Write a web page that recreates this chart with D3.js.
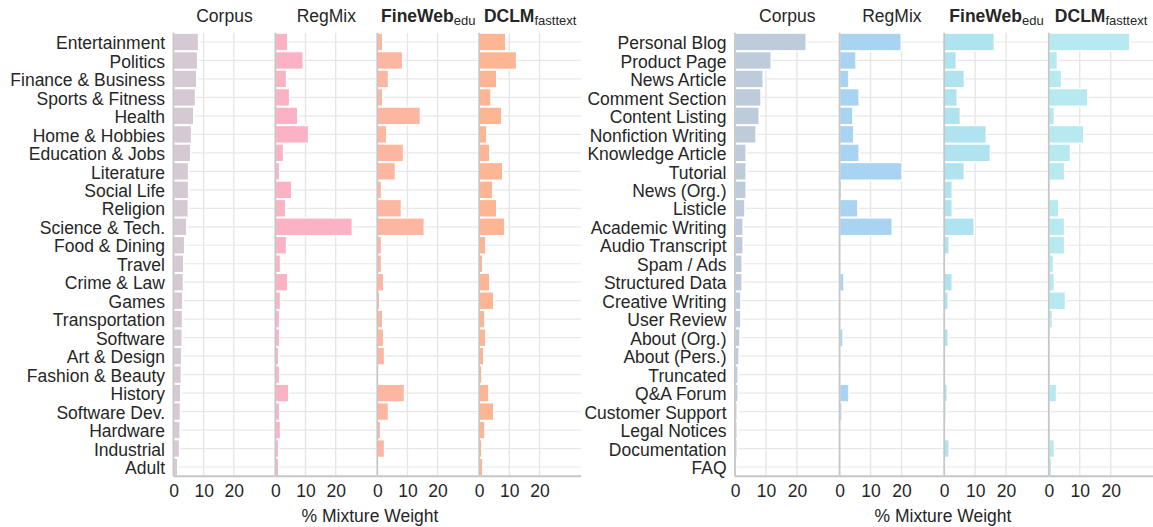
<!DOCTYPE html>
<html>
<head>
<meta charset="utf-8">
<script src="https://cdn.jsdelivr.net/npm/d3@7"></script>
<style>
  body { margin: 0; background: #fff; }
  text { font-family: "Liberation Sans", Arial, sans-serif; fill: #262626; }
</style>
</head>
<body>
<script>
// data (% mixture weight)
const topicCats = ['Entertainment', 'Politics', 'Finance & Business', 'Sports & Fitness', 'Health',
    'Home & Hobbies', 'Education & Jobs', 'Literature', 'Social Life', 'Religion', 'Science & Tech.',
    'Food & Dining', 'Travel', 'Crime & Law', 'Games', 'Transportation', 'Software', 'Art & Design',
    'Fashion & Beauty', 'History', 'Software Dev.', 'Hardware', 'Industrial', 'Adult'];
const topicCorpus = [8.3, 8.0, 7.7, 7.3, 6.7, 6.0, 5.7, 5.0, 5.0, 4.9, 4.4, 3.7, 3.4, 3.3,
    3.1, 3.0, 2.9, 2.7, 2.6, 2.4, 2.3, 2.2, 2.0, 1.4];
const topicRegMix = [4.1, 9.2, 3.7, 4.7, 7.4, 11.0, 2.7, 1.4, 5.4, 3.4, 25.5, 3.7, 1.7, 4.1,
    1.7, 1.4, 1.4, 1.1, 1.4, 4.4, 1.4, 1.7, 1.1, 1.1];
const topicFineWeb = [1.8, 8.4, 3.7, 1.8, 14.3, 3.1, 8.7, 6.0, 1.4, 8.0, 15.6, 1.4, 1.4, 2.1,
    0.8, 1.8, 2.1, 2.4, 0.3, 9.0, 3.7, 1.1, 2.4, 0.2];
const topicDCLM = [8.8, 12.4, 5.8, 3.9, 7.5, 2.5, 3.5, 7.8, 4.5, 5.8, 8.5, 2.2, 1.2, 3.5,
    4.8, 1.9, 2.2, 1.5, 0.9, 3.2, 4.8, 1.9, 0.9, 1.2];

const formatCats = ['Personal Blog', 'Product Page', 'News Article', 'Comment Section', 'Content Listing',
    'Nonfiction Writing', 'Knowledge Article', 'Tutorial', 'News (Org.)', 'Listicle', 'Academic Writing',
    'Audio Transcript', 'Spam / Ads', 'Structured Data', 'Creative Writing', 'User Review', 'About (Org.)',
    'About (Pers.)', 'Truncated', 'Q&A Forum', 'Customer Support', 'Legal Notices', 'Documentation', 'FAQ'];
const formatCorpus = [23.0, 11.7, 9.1, 8.4, 7.8, 6.8, 3.6, 3.6, 3.6, 3.2, 2.6, 2.6, 2.3, 2.3,
    1.9, 1.9, 1.6, 1.3, 1.0, 1.0, 0.7, 0.7, 0.7, 0.4];
const formatRegMix = [19.9, 5.3, 3.0, 6.3, 4.3, 4.6, 6.3, 20.2, 0.7, 5.9, 17.0, 0.1, 0.0, 1.4,
    0.3, 0.0, 1.1, 0.3, 0.0, 3.0, 0.8, 0.0, 0.0, 0.0];
const formatFineWeb = [16.2, 3.9, 6.5, 4.2, 5.2, 13.6, 14.9, 6.5, 2.6, 2.6, 9.7, 1.6, 0.3, 2.6,
    1.3, 0.2, 1.3, 0.1, 0.2, 1.0, 0.6, 0.1, 1.6, 0.3];
const formatDCLM = [26.2, 2.8, 4.1, 12.6, 1.8, 11.3, 7.0, 5.1, 0.3, 3.2, 5.1, 5.1, 1.5, 1.8,
    5.4, 1.2, 0.3, 0.3, 0.0, 2.5, 0.3, 0.0, 1.8, 0.9];

const facetTitles = [['Corpus', ''], ['RegMix', ''], ['FineWeb', 'edu'], ['DCLM', 'fasttext']];
const xTicks = [0, 10, 20];
const xLabel = '% Mixture Weight';

// layout
const width = 1153;
const height = 527;
const plotTop = 32.75;
const plotBottom = 476.25;
const xMax = 33.8;

const svg = d3.select('body').append('svg')
    .attr('width', width).attr('height', height);

const panels = [
    {
        cats: topicCats,
        series: [topicCorpus, topicRegMix, topicFineWeb, topicDCLM],
        colors: ['#d5cad3', '#fbb2c5', '#fdb6a0', '#feb593'],
        left: 173.5, facetW: 101.9, labelX: 370
    },
    {
        cats: formatCats,
        series: [formatCorpus, formatRegMix, formatFineWeb, formatDCLM],
        colors: ['#bdcbdb', '#a8d4f2', '#b0e3f0', '#b6eaf0'],
        left: 735, facetW: 104.6, labelX: 943
    }
];

panels.forEach(drawPanel);

function drawPanel(p) {
    const g = svg.append('g');
    const y = d3.scaleBand().domain(p.cats).range([plotTop, plotBottom]).padding(0);
    const bw = y.bandwidth();
    const right = p.left + p.facetW * 4;

    // horizontal grid at each category
    g.append('g').selectAll('line')
        .data(p.cats)
        .join('line')
        .attr('x1', p.left).attr('x2', right)
        .attr('y1', d => y(d) + bw / 2).attr('y2', d => y(d) + bw / 2)
        .attr('stroke', '#e8e8e8').attr('stroke-width', 1.2);

    p.series.forEach((vals, i) => {
        const fx = p.left + i * p.facetW;
        const x = d3.scaleLinear().domain([0, xMax]).range([fx, fx + p.facetW]);
        const fg = g.append('g');

        // vertical grid
        fg.append('g').selectAll('line')
            .data(xTicks.filter(t => t > 0))
            .join('line')
            .attr('x1', d => x(d)).attr('x2', d => x(d))
            .attr('y1', plotTop).attr('y2', plotBottom)
            .attr('stroke', '#e6e6e6').attr('stroke-width', 1.4);

        // bars
        fg.append('g').selectAll('rect')
            .data(p.cats.map((c, j) => ({ c, v: vals[j] })))
            .join('rect')
            .attr('x', x(0))
            .attr('y', d => y(d.c) + bw * 0.02)
            .attr('width', d => x(d.v) - x(0))
            .attr('height', bw * 0.96)
            .attr('fill', p.colors[i])
            .attr('stroke', '#fff')
            .attr('stroke-width', 1.4);

        // spines
        fg.append('line')
            .attr('x1', x(0)).attr('x2', x(0))
            .attr('y1', plotTop).attr('y2', plotBottom)
            .attr('stroke', '#c6c6c6').attr('stroke-width', 1.8);
        fg.append('line')
            .attr('x1', x(0)).attr('x2', x(0) + p.facetW)
            .attr('y1', plotBottom).attr('y2', plotBottom)
            .attr('stroke', '#c6c6c6').attr('stroke-width', 1.8);

        // x axis ticks
        const ax = fg.append('g')
            .attr('transform', `translate(0,${plotBottom})`)
            .call(d3.axisBottom(x).tickValues(xTicks).tickSize(0).tickPadding(8.5));
        ax.select('.domain').remove();
        ax.selectAll('text')
            .attr('font-size', 17.5)
            .attr('font-family', '"Liberation Sans", Arial, sans-serif')
            .style('fill', '#262626');

        // facet title
        const [main, sub] = facetTitles[i];
        const t = fg.append('text')
            .attr('x', fx + p.facetW / 2)
            .attr('y', 22)
            .attr('text-anchor', 'middle')
            .attr('font-size', 17.5);
        t.append('tspan').text(main).attr('font-weight', sub ? 'bold' : 'normal');
        if (sub) {
            t.append('tspan').text(sub).attr('font-size', 13).attr('dy', 3);
        }
    });

    // category labels
    const ay = g.append('g')
        .attr('transform', `translate(${p.left},0)`)
        .call(d3.axisLeft(y).tickSize(0).tickPadding(8.5));
    ay.select('.domain').remove();
    ay.selectAll('text')
        .attr('font-size', 17.5)
        .attr('dy', '0.41em')
        .attr('font-family', '"Liberation Sans", Arial, sans-serif')
        .style('fill', '#262626');

    g.append('text')
        .attr('x', p.labelX)
        .attr('y', 522)
        .attr('text-anchor', 'middle')
        .attr('font-size', 17.5)
        .text(xLabel);
}
</script>
</body>
</html>
